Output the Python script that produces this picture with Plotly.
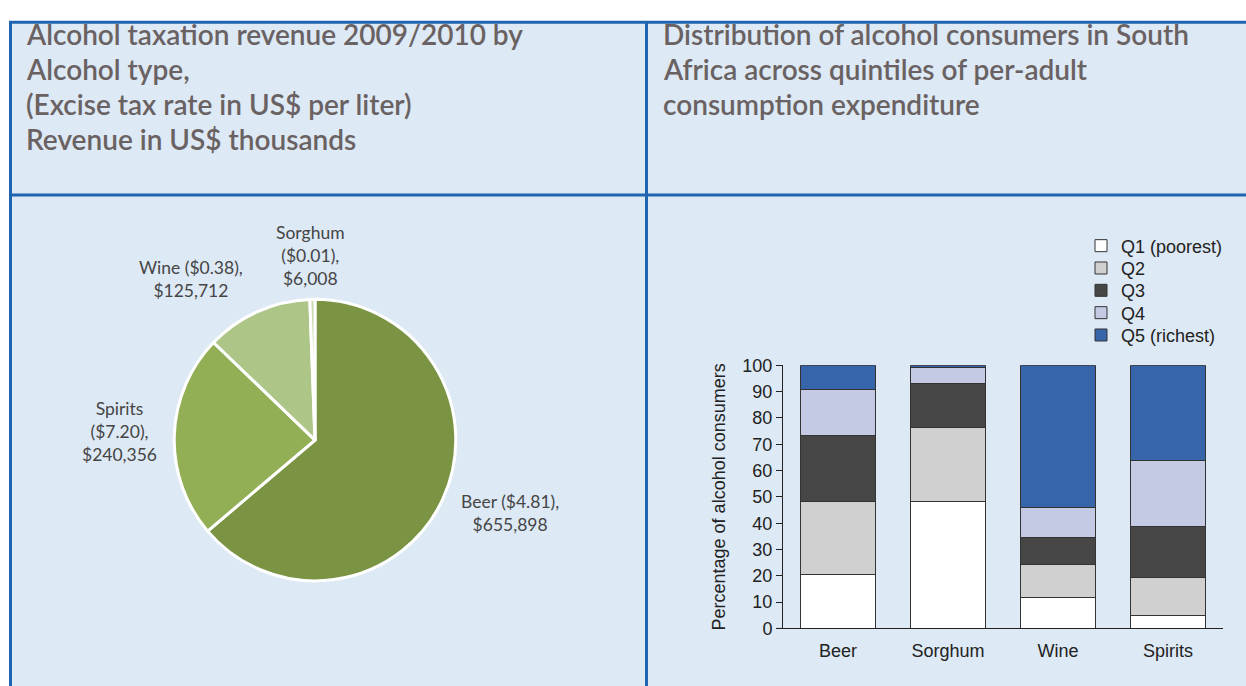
import plotly.graph_objects as go

W, H = 1246, 686

# ---- Pie: alcohol taxation revenue (US$ thousands) ----
pie_types = ["Beer", "Spirits", "Wine", "Sorghum"]
pie_rates = ["$4.81", "$7.20", "$0.38", "$0.01"]
pie_revenue = [655898, 240356, 125712, 6008]
pie_colors = ["#7b9444", "#93af56", "#adc688", "#c9daad"]

# ---- Stacked bars: share of consumers by expenditure quintile ----
bar_categories = ["Beer", "Sorghum", "Wine", "Spirits"]
quintile_names = ["Q1 (poorest)", "Q2", "Q3", "Q4", "Q5 (richest)"]
q1 = [20.6, 48.3, 11.7, 5.0]
q2 = [27.6, 27.9, 12.7, 14.4]
q3 = [25.1, 16.9, 10.2, 19.4]
q4 = [17.6, 6.0, 11.4, 24.9]
q5 = [9.1, 0.9, 54.0, 36.3]
quintile_values = [q1, q2, q3, q4, q5]
quintile_colors = ["#ffffff", "#d0d0d0", "#464646", "#c4cae4", "#3665a9"]

left_title = ["Alcohol taxation revenue 2009/2010 by",
              "Alcohol type,",
              "(Excise tax rate in US$ per liter)",
              "Revenue in US$ thousands"]
right_title = ["Distribution of alcohol consumers in South",
               "Africa across quintiles of per-adult",
               "consumption expenditure"]


def px(x):
    return x / W


def py(y):
    return 1 - y / H


fig = go.Figure()

fig.add_trace(go.Pie(
    labels=pie_types,
    values=pie_revenue,
    sort=False,
    direction="clockwise",
    rotation=0,
    marker=dict(colors=pie_colors, line=dict(color="white", width=3)),
    textinfo="none",
    hoverinfo="label+value",
    showlegend=False,
    domain=dict(x=[px(170), px(460)], y=[py(588), py(298)]),
))

legend_names = ["legend", "legend2", "legend3", "legend4", "legend5"]
for name, vals, col, lg in zip(quintile_names, quintile_values, quintile_colors, legend_names):
    fig.add_trace(go.Bar(
        x=bar_categories, y=vals, name=name, legend=lg,
        marker=dict(color=col, line=dict(color="#333333", width=1)),
        xaxis="x", yaxis="y",
    ))

shapes = []
border = "#1e64b0"
bg = "#dde9f5"
shapes.append(dict(type="rect", xref="paper", yref="paper",
                   x0=px(10.5), x1=px(1260), y0=py(12.5), y1=py(700),
                   fillcolor=bg, line=dict(color=border, width=3), layer="below"))
shapes.append(dict(type="line", xref="paper", yref="paper",
                   x0=px(646.5), x1=px(646.5), y0=py(12.5), y1=py(700),
                   line=dict(color=border, width=3), layer="below"))
shapes.append(dict(type="line", xref="paper", yref="paper",
                   x0=px(10.5), x1=px(1260), y0=py(190.5), y1=py(190.5),
                   line=dict(color=border, width=3), layer="below"))
# x axis baseline runs a little past the y axis on the left
shapes.append(dict(type="line", xref="paper", yref="y",
                   x0=px(776), x1=px(783), y0=0, y1=0,
                   line=dict(color="#222222", width=1)))

annotations = []
title_font = dict(family="Lato", size=28, color="#6a6262", weight=600)
title_rows = [25, 61, 97, 133]
for line, y in zip(left_title, title_rows):
    annotations.append(dict(text=line, x=px(24), y=py(y),
                            xref="paper", yref="paper", xanchor="left", yanchor="middle",
                            showarrow=False, font=title_font))
for line, y in zip(right_title, title_rows):
    annotations.append(dict(text=line, x=px(661), y=py(y),
                            xref="paper", yref="paper", xanchor="left", yanchor="middle",
                            showarrow=False, font=title_font))

# pie slice labels
label_font = dict(family="Lato", size=17.5, color="#454545")
label_pos = {"Sorghum": (310, 253), "Wine": (191, 277), "Spirits": (119, 434), "Beer": (510, 518)}
label_text = {
    "Sorghum": "Sorghum<br>({r}),<br>${v:,}",
    "Wine": "Wine ({r}),<br>${v:,}",
    "Spirits": "Spirits<br>({r}),<br>${v:,}",
    "Beer": "Beer ({r}),<br>${v:,}",
}
for name, rate, val in zip(pie_types, pie_rates, pie_revenue):
    x, y = label_pos[name]
    annotations.append(dict(text=label_text[name].format(r=rate, v=val),
                            x=px(x), y=py(y), xref="paper", yref="paper",
                            xanchor="center", yanchor="middle", align="center",
                            showarrow=False, font=label_font))

axis_font = dict(family="Liberation Sans", size=18, color="#222222")

legend_centers = [244, 267, 290, 313, 336]
legend_layout = {}
for lg, cy in zip(legend_names, legend_centers):
    legend_layout[lg] = dict(x=px(1081), y=py(cy - 20), xanchor="left", yanchor="top",
                             font=axis_font, bgcolor="rgba(0,0,0,0)")

fig.update_layout(
    width=W, height=H,
    margin=dict(l=0, r=0, t=0, b=0),
    paper_bgcolor="white",
    plot_bgcolor="rgba(0,0,0,0)",
    barmode="stack",
    bargap=0.32,
    shapes=shapes,
    annotations=annotations,
    xaxis=dict(domain=[px(783), px(1223)], range=[-0.5, 3.5],
               showline=True, linecolor="#222222", linewidth=1,
               ticks="", showgrid=False, tickfont=axis_font, zeroline=False,
               ticklabelstandoff=6, fixedrange=True),
    yaxis=dict(domain=[py(637), py(366)], range=[0, 100], dtick=10,
               showline=True, linecolor="#222222", linewidth=1,
               ticks="outside", ticklen=6, tickcolor="#222222",
               showgrid=False, zeroline=False, tickfont=axis_font,
               title=dict(text="Percentage of alcohol consumers", font=axis_font, standoff=12),
               fixedrange=True),
    **legend_layout,
)

fig.write_html("out.html")
